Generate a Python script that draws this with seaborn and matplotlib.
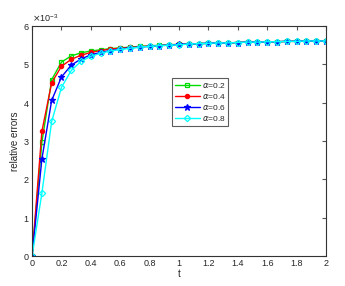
import matplotlib
matplotlib.use("Agg")
import matplotlib.pyplot as plt
import seaborn as sns
import pandas as pd
from matplotlib.ticker import ScalarFormatter

# time grid (31 samples, step 1/15)
t = [i / 15 for i in range(31)]

# relative errors, in units of 1e-3
err_02 = [0, 2.97, 4.60, 5.06, 5.22, 5.30, 5.35, 5.38, 5.41, 5.43, 5.45,
          5.47, 5.48, 5.50, 5.51, 5.52, 5.53, 5.54, 5.55, 5.56, 5.56,
          5.57, 5.58, 5.58, 5.59, 5.59, 5.60, 5.60, 5.61, 5.61, 5.61]
err_04 = [0, 3.25, 4.52, 4.95, 5.13, 5.24, 5.31, 5.36, 5.40, 5.42, 5.44,
          5.46, 5.48, 5.49, 5.51, 5.52, 5.53, 5.54, 5.55, 5.56, 5.56,
          5.57, 5.58, 5.58, 5.59, 5.59, 5.60, 5.60, 5.61, 5.61, 5.61]
err_06 = [0, 2.53, 4.06, 4.67, 4.98, 5.14, 5.25, 5.31, 5.36, 5.40, 5.43,
          5.45, 5.47, 5.49, 5.50, 5.52, 5.53, 5.54, 5.55, 5.56, 5.56,
          5.57, 5.58, 5.58, 5.59, 5.59, 5.60, 5.60, 5.61, 5.61, 5.61]
err_08 = [0, 1.64, 3.51, 4.40, 4.84, 5.08, 5.21, 5.29, 5.35, 5.39, 5.42,
          5.45, 5.47, 5.49, 5.50, 5.51, 5.53, 5.54, 5.55, 5.56, 5.56,
          5.57, 5.58, 5.58, 5.59, 5.59, 5.60, 5.60, 5.61, 5.61, 5.61]

labels = ["0.2", "0.4", "0.6", "0.8"]
series = [err_02, err_04, err_06, err_08]

colors = ["#00dd00", "#ff0000", "#0000ff", "#00ffff"]
markers = ["s", "o", "*", "D"]
msizes = [3.2, 3, 5, 3.2]
faces = ["none", "#ff0000", "#0000ff", "none"]

sns.set_style("white")
plt.rcParams["font.family"] = ["Liberation Sans", "DejaVu Sans"]

fig = plt.figure(figsize=(3.45, 2.86), dpi=100)
ax = fig.add_axes([0.093, 0.105, 0.852, 0.804])

for lab, vals, c, m, ms, fc in zip(labels, series, colors, markers, msizes, faces):
    df = pd.DataFrame({"t": t, "err": [v * 1e-3 for v in vals]})
    sns.lineplot(data=df, x="t", y="err", ax=ax, color=c, marker=m,
                 markersize=ms, markerfacecolor=fc, markeredgecolor=c,
                 markeredgewidth=0.9, linewidth=1.0,
                 label=r"$\alpha$=" + lab)

ax.set_xlim(0, 2)
ax.set_ylim(0, 6e-3)
ax.set_xticks([i * 0.2 for i in range(11)])
ax.set_xticklabels(["0", "0.2", "0.4", "0.6", "0.8", "1", "1.2", "1.4",
                    "1.6", "1.8", "2"])
ax.set_yticks([i * 1e-3 for i in range(7)])
fmt = ScalarFormatter(useMathText=True)
fmt.set_powerlimits((-3, -3))
ax.yaxis.set_major_formatter(fmt)
ax.yaxis.get_offset_text().set_fontsize(6.5)

ax.tick_params(direction="in", top=True, right=True, length=3,
               labelsize=6.5, color="#555555", pad=2)
for s in ax.spines.values():
    s.set_color("#333333")
    s.set_linewidth(0.8)

ax.set_xlabel("t", fontsize=7, labelpad=1)
ax.set_ylabel("relative errors", fontsize=7, labelpad=2)

leg = ax.legend(loc="upper left", bbox_to_anchor=(0.462, 0.79),
                fontsize=6, frameon=True, fancybox=False,
                edgecolor="#333333", handlelength=3.0, borderpad=0.3,
                labelspacing=0.25, handletextpad=0.3)
leg.get_frame().set_linewidth(0.8)

fig.savefig("out.png", dpi=100)
